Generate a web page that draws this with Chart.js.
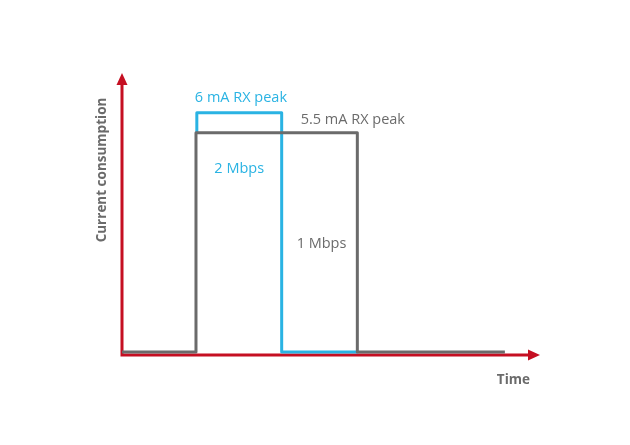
<!DOCTYPE html>
<html>
<head>
<meta charset="utf-8">
<script src="https://cdn.jsdelivr.net/npm/chart.js@4"></script>
<style>
  body { margin: 0; background: #fff; }
</style>
</head>
<body>
<canvas id="myChart" width="630" height="445"></canvas>
<script>
// time axis runs 0..100 (arbitrary units), current in mA
const grayTime = [0, 17.7, 17.7, 56.3, 56.3, 91.6];
const grayCurrent = [0, 0, 5.5, 5.5, 0, 0];
const blueTime = [17.9, 17.9, 38.2, 38.2, 56.5];
const blueCurrent = [5.5, 6, 6, 0, 0];

const peakLabels = ["6 mA RX peak", "5.5 mA RX peak"];
const rateLabels = ["2 Mbps", "1 Mbps"];
const axisTitles = ["Current consumption", "Time"];

const blue = "#2ab3e3";
const gray = "#6b6b6b";
const red = "#c50f22";
const font = "'Open Sans', sans-serif";

const toPoints = (xs, ys) => xs.map((x, i) => ({ x: x, y: ys[i] }));

const arrowAxes = {
  id: "arrowAxes",
  beforeDatasetsDraw(chart) {
    const { ctx, chartArea } = chart;
    const l = chartArea.left, b = chartArea.bottom;
    ctx.save();
    ctx.strokeStyle = red;
    ctx.fillStyle = red;
    ctx.lineWidth = 3;
    ctx.beginPath();
    ctx.moveTo(l, b);
    ctx.lineTo(l, chartArea.top + 8);
    ctx.moveTo(l - 1.5, b);
    ctx.lineTo(chartArea.right - 8, b);
    ctx.stroke();
    // arrow heads
    ctx.beginPath();
    ctx.moveTo(l, chartArea.top);
    ctx.lineTo(l - 5.5, chartArea.top + 12);
    ctx.lineTo(l + 5.5, chartArea.top + 12);
    ctx.closePath();
    ctx.fill();
    ctx.beginPath();
    ctx.moveTo(chartArea.right, b);
    ctx.lineTo(chartArea.right - 12, b - 5.5);
    ctx.lineTo(chartArea.right - 12, b + 5.5);
    ctx.closePath();
    ctx.fill();
    ctx.restore();
  },
  afterDatasetsDraw(chart) {
    const { ctx } = chart;
    const xs = chart.scales.x, ys = chart.scales.y;
    ctx.save();
    ctx.textBaseline = "middle";

    // peak labels
    ctx.font = "14.5px " + font;
    ctx.textAlign = "left";
    ctx.fillStyle = blue;
    ctx.fillText(peakLabels[0], xs.getPixelForValue(blueTime[0]) - 2, ys.getPixelForValue(6) - 15);
    ctx.fillStyle = gray;
    ctx.fillText(peakLabels[1], xs.getPixelForValue(blueTime[2]) + 19, ys.getPixelForValue(5.5) - 13);

    // data rate labels
    ctx.textAlign = "center";
    ctx.fillStyle = blue;
    ctx.fillText(rateLabels[0], (xs.getPixelForValue(blueTime[0]) + xs.getPixelForValue(blueTime[2])) / 2, 169);
    ctx.fillStyle = gray;
    ctx.fillText(rateLabels[1], (xs.getPixelForValue(blueTime[2]) + xs.getPixelForValue(grayTime[3])) / 2 + 2, 244);

    // axis titles
    ctx.font = "bold 13.5px " + font;
    ctx.fillStyle = gray;
    ctx.textAlign = "right";
    ctx.fillText(axisTitles[1], 530, 380);
    ctx.translate(102, 170);
    ctx.rotate(-Math.PI / 2);
    ctx.textAlign = "center";
    ctx.fillText(axisTitles[0], 0, 0);
    ctx.restore();
  }
};

new Chart("myChart", {
  type: "line",
  data: {
    datasets: [
      {
        data: toPoints(grayTime, grayCurrent),
        borderColor: gray,
        borderWidth: 3,
        borderJoinStyle: "round",
        pointRadius: 0,
        order: 1
      },
      {
        data: toPoints(blueTime, blueCurrent),
        borderColor: blue,
        borderWidth: 3,
        borderJoinStyle: "round",
        pointRadius: 0,
        order: 2
      }
    ]
  },
  options: {
    responsive: false,
    animation: false,
    layout: { padding: { left: 122, top: 73, right: 90, bottom: 90 } },
    plugins: { legend: { display: false }, tooltip: { enabled: false } },
    scales: {
      x: { type: "linear", min: 0, max: 100, display: false },
      y: { min: -0.075, max: 7, display: false }
    }
  },
  plugins: [arrowAxes]
});
</script>
</body>
</html>
